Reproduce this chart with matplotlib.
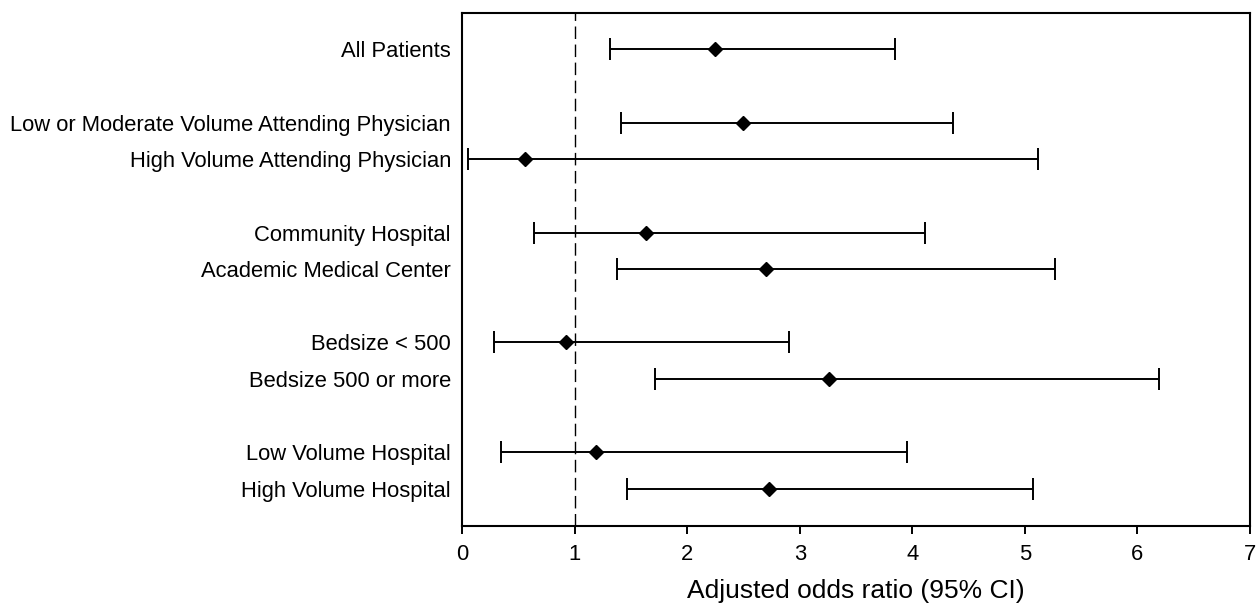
import matplotlib
matplotlib.use("Agg")
import matplotlib.pyplot as plt

labels = ["All Patients",
          "Low or Moderate Volume Attending Physician",
          "High Volume Attending Physician",
          "Community Hospital",
          "Academic Medical Center",
          "Bedsize < 500",
          "Bedsize 500 or more",
          "Low Volume Hospital",
          "High Volume Hospital"]
rows = [0, 2, 3, 5, 6, 8, 9, 11, 12]
odds = [2.25, 2.50, 0.555, 1.63, 2.70, 0.92, 3.26, 1.19, 2.73]
lower = [1.31, 1.415, 0.056, 0.64, 1.376, 0.28, 1.71, 0.348, 1.464]
upper = [3.85, 4.36, 5.12, 4.11, 5.27, 2.907, 6.19, 3.956, 5.07]
xticks = [0, 1, 2, 3, 4, 5, 6, 7]

plt.rcParams['font.family'] = ['Liberation Sans', 'DejaVu Sans']

fig = plt.figure(figsize=(12.6, 6.13), dpi=100)
ax = fig.add_axes([0.3667, 0.1424, 0.6254, 0.8369])

err_lo = [o - l for o, l in zip(odds, lower)]
err_hi = [u - o for o, u in zip(odds, upper)]
ax.errorbar(odds, rows, xerr=[err_lo, err_hi], fmt='D', color='black',
            markersize=7.5, elinewidth=1.4, capsize=8, capthick=1.4, ecolor='black')

ax.axvline(1, color='black', linewidth=1.0, linestyle=(0, (9, 4)))

ax.set_xlim(0, 7)
ax.set_ylim(13, -1)
ax.set_xticks(xticks)
ax.set_xticklabels([str(t) for t in xticks], fontsize=15.8)
ax.set_yticks(rows)
ax.set_yticklabels(labels, fontsize=15.8)
ax.tick_params(axis='y', length=0, pad=8)
ax.tick_params(axis='x', length=6, width=1.4, pad=7, direction='out')
for s in ax.spines.values():
    s.set_linewidth(1.5)
ax.set_xlabel("Adjusted odds ratio (95% CI)", fontsize=19, labelpad=10)

fig.savefig("out.png", dpi=100)
